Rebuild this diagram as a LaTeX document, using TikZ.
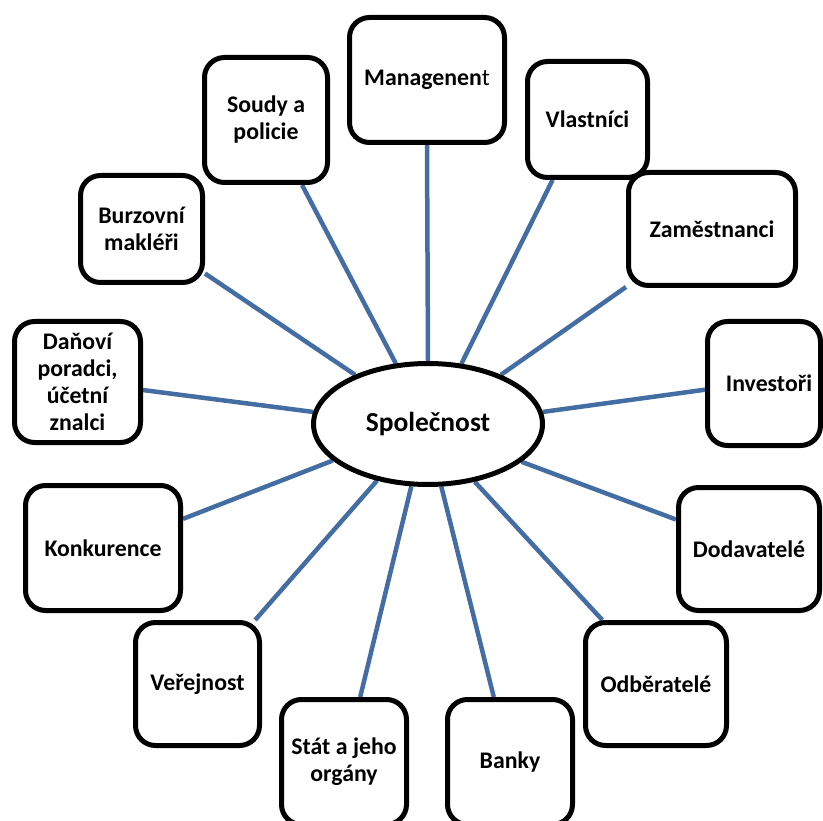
\documentclass[tikz,border=0pt]{standalone}
\usepackage{fontspec}
\setmainfont{Carlito}
\usetikzlibrary{shapes.geometric,backgrounds}
\definecolor{linkblue}{RGB}{68,109,163}
\begin{document}
\begin{tikzpicture}[x=1pt,y=-1pt,
  party/.style={draw,line width=5pt,rounded corners=20pt,fill=white,
    align=center,inner sep=0pt,font=\bfseries\fontsize{23.8}{27}\selectfont},
  hub/.style={ellipse,draw,line width=5pt,fill=white,inner sep=0pt,
    minimum width=229pt,minimum height=121pt,font=\bfseries\fontsize{27.5}{32}\selectfont},
  link/.style={draw=linkblue,line width=4.5pt}]
\clip (0,0) rectangle (823,821);

% central company
\node[hub] (soc) at (428,424) {Společnost};

% surrounding stakeholders
\node[party,minimum width=123pt,minimum height=125pt] (soudy) at (266,120) {Soudy a\\policie};
\node[party,minimum width=155pt,minimum height=125pt] (man) at (427,80) {Managenen{\mdseries t}};
\node[party,minimum width=120pt,minimum height=116pt] (vl) at (587.5,119.5) {Vlastníci};
\node[party,minimum width=167pt,minimum height=113pt] (zam) at (712,229) {Zaměstnanci};
\node[party,minimum width=113pt,minimum height=124pt] (inv) at (764,383.5) {\hspace*{10pt}Investoři};
\node[party,minimum width=141pt,minimum height=123pt] (dod) at (749,549) {Dodavatelé};
\node[party,minimum width=141pt,minimum height=123pt] (odb) at (656,684) {Odběratelé};
\node[party,minimum width=125pt,minimum height=125pt] (banky) at (510,762) {Banky};
\node[party,minimum width=125pt,minimum height=125pt] (stat) at (344,762) {Stát a jeho\\orgány};
\node[party,minimum width=124pt,minimum height=123pt] (ver) at (197.5,684) {Veřejnost};
\node[party,minimum width=155pt,minimum height=125pt] (konk) at (103,548) {Konkurence};
\node[party,minimum width=126pt,minimum height=121pt] (dan) at (77.5,382) {Daňoví\\poradci,\\účetní\\znalci};
\node[party,minimum width=122pt,minimum height=107pt] (burz) at (141.5,229) {Burzovní\\makléři};

% connectors
\begin{scope}[on background layer]
\draw[link] (soudy.299) -- (soc.118.4);
\draw[link] (man.south) -- (soc.north);
\draw[link] (vl.240.6) -- (soc.61.6);
\draw[link] (zam.214.7) -- (soc.34.2);
\draw[link] (inv.186.3) -- (soc.6.3);
\draw[link] (dod.158.3) -- (soc.338.8);
\draw[link] (odb.130.3) -- (soc.309.8);
\draw[link] (banky.104.4) -- (soc.282.3);
\draw[link] (stat.76.4) -- (soc.255.3);
\draw[link] (ver.48.2) -- (soc.228);
\draw[link] (konk.20.3) -- (soc.201.3);
\draw[link] (dan.353.1) -- (soc.174.1);
\draw[link] (burz.325.3) -- (soc.146.8);
\end{scope}
\end{tikzpicture}
\end{document}
